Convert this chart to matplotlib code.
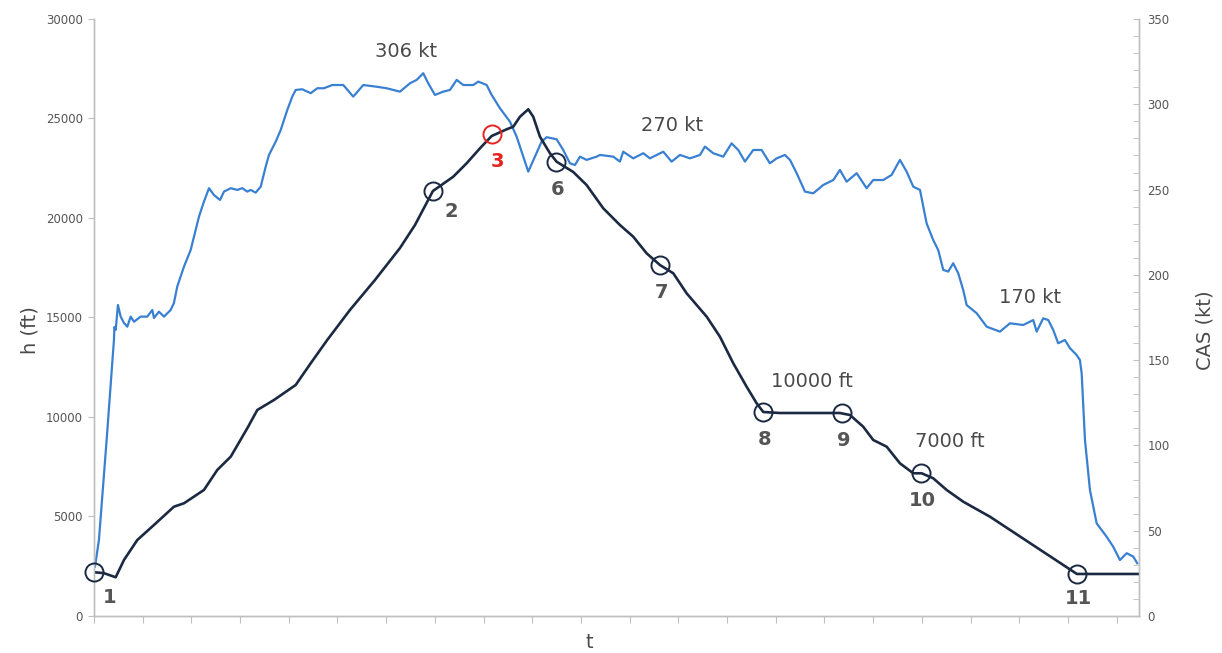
import matplotlib
matplotlib.use("Agg")
import matplotlib.pyplot as plt
from matplotlib.ticker import MultipleLocator, NullFormatter

# ---------------- data ----------------
# altitude profile h (ft) vs time t (s)
h_t = [0, 10.3, 22.3, 30.8, 44.5, 61.6, 82.1, 92.4, 112.9, 126.6, 140.4, 157.4, 167.7,
       184.8, 207.1, 222.5, 239.5, 262.8, 288.5, 314.2, 329.6, 348, 368.9, 382.6, 396.3,
       408.3, 423.7, 430.5, 437.4, 445.9, 451, 457.9, 468.2, 475, 492.1, 505.8, 522.9,
       540, 553.7, 567.4, 581.1, 594.8, 608.5, 629.1, 642.7, 656.4, 670.1, 680.4, 687.2,
       704.3, 765.9, 776.2, 789.8, 800.1, 813.9, 827.5, 841.2, 849.8, 861.7, 875.5,
       892.5, 919.9, 1009.2, 1073]
h_ft = [2200, 2150, 1945, 2814, 3819, 4573, 5492, 5663, 6332, 7337, 8005, 9432, 10352,
        10854, 11608, 12698, 13869, 15377, 16884, 18492, 19648, 21356, 22075, 22748, 23502,
        24120, 24457, 24587, 25090, 25462, 25090, 24085, 23251, 22829, 22311, 21658, 20487,
        19648, 19060, 18226, 17638, 17221, 16216, 15040, 14035, 12698, 11522, 10688, 10251,
        10200, 10200, 10100, 9512, 8844, 8507, 7673, 7171, 7171, 6919, 6332,
        5743, 4990, 2111, 2111]

# calibrated airspeed CAS (kt) vs time t (s)
cas_t = [0, 1, 5.1, 13, 20.5, 21, 22.3, 24.6, 27.4, 30.8, 34.2, 37.7, 41.1, 47.9, 54.7,
         59.9, 61.6, 66.7, 71.9, 78.7, 82.1, 85.5, 92.4, 99.3, 102.7, 107.8, 112.9, 118.1,
         123.2, 129.4, 133.5, 140.4, 147.1, 152.3, 157.4, 160.9, 166, 171.2, 176.3, 179.7,
         186.6, 191.7, 198.5, 203.6, 207.1, 213.9, 222.5, 229.3, 236.1, 244.7, 256, 266.2,
         276.5, 290.2, 300.5, 314.2, 324.4, 331.3, 338.1, 343.2, 350.1, 358.6, 365.5, 372.4,
         379.2, 389.4, 394.6, 403.2, 408.3, 416.8, 427.1, 434, 440.8, 445.9, 452.8, 459.6,
         464.8, 475, 481.8, 488.7, 493.8, 499, 505.8, 516.1, 519.5, 533.2, 540, 543.4,
         553.7, 564, 570.8, 584.5, 593.1, 601.7, 611.9, 622.2, 627.3, 635.8, 646.1, 654.7,
         661.5, 668.4, 676.9, 685.5, 694, 700.9, 709.4, 714.6, 721.5, 730, 738.5, 748.8,
         759.1, 765.9, 772.8, 783.1, 793.3, 800.1, 810.4, 819, 827.5, 834.4, 841.2, 848.1,
         854.9, 861.7, 866.8, 872, 877.1, 882.2, 887.4, 892.5, 896, 906.3, 916.6, 930.2,
         940.5, 954.1, 964.4, 967.9, 974.6, 979.8, 984.9, 990, 996.9, 1002.1, 1008.9,
         1012.3, 1014.1, 1017.5, 1022.6, 1029.5, 1039.7, 1046.5, 1053.4, 1060.3, 1067.1,
         1071.2]
cas_kt = [30, 28.7, 44.6, 103.2, 161.8, 169.4, 167.7, 182.3, 175.5, 171.8, 169.6, 175.5,
          172.5, 175.5, 175.5, 179.4, 174.7, 178.4, 175.5, 179.4, 183.5, 193.1, 204.8,
          214.6, 222.4, 234.1, 242.9, 250.8, 246.8, 243.9, 248.8, 250.8, 249.8, 250.8,
          248.8, 249.8, 248.2, 251.7, 263.4, 270.3, 278.1, 284.9, 296.7, 304.5, 308.4,
          308.8, 306.5, 309.4, 309.4, 311.3, 311.3, 304.5, 311.3, 310.3, 309.4, 307.4,
          312.3, 314.3, 318.2, 312.3, 305.5, 307.4, 308.4, 314.3, 311.3, 311.3, 313.3,
          311.3, 305.5, 297.7, 289.8, 281.0, 269.3, 260.5, 269.3, 278.1, 280.7, 279.5,
          273.2, 265.4, 264.4, 269.3, 267.4, 269.3, 270.3, 269.3, 266.4, 272.2, 268.3,
          271.3, 268.3, 272.2, 266.4, 270.3, 268.3, 270.3, 275.2, 271.3, 269.3, 277.1,
          273.2, 266.4, 273.2, 273.2, 265.4, 268.3, 270.3, 267.4, 259.6, 248.8, 247.8,
          252.7, 255.6, 261.5, 254.6, 259.6, 250.8, 255.6, 255.6, 258.6, 267.4, 260.5,
          251.7, 249.8, 230.2, 220.4, 214.6, 202.9, 201.9, 206.8, 200.9, 191.1, 182.3,
          177.5, 169.6, 166.7, 171.6, 170.6, 173.5, 166.7, 174.5, 173.5, 167.7, 159.9,
          161.8, 157, 153, 150.1, 142.3, 103.2, 73.9, 54.3, 46.5, 40.6, 32.8, 36.8, 34.8,
          30.9]

# numbered waypoints on the altitude profile
wp_labels = ["1", "2", "3", "6", "7", "8", "9", "10", "11"]
wp_t = [0, 348, 408.6, 474.3, 581.1, 687.4, 768.5, 849, 1009.2]
wp_h = [2200, 21356, 24220, 22814, 17638, 10251, 10200, 7186, 2111]

# text annotations
alt_notes = ["10000 ft", "7000 ft"]
alt_note_t = [737.2, 878.9]
alt_note_h = [11759, 8744]
cas_notes = ["306 kt", "270 kt", "170 kt"]
cas_note_t = [320.3, 593.4, 961]
cas_note_v = [330.7, 287.3, 187]

# ---------------- plot ----------------
BLUE = "#3a80d2"
NAVY = "#1b2a42"
GREY_TXT = "#4a4a4a"
SPINE = "#bfbfbf"

fig = plt.figure(figsize=(12.22, 6.53), dpi=100)
ax = fig.add_axes([0.0769, 0.0567, 0.9321 - 0.0769, 0.9709 - 0.0567])
ax2 = ax.twinx()

ax2.plot(cas_t, cas_kt, color=BLUE, lw=1.6, solid_joinstyle="round")
ax.plot(h_t, h_ft, color=NAVY, lw=1.9, solid_joinstyle="round")

ax.set_zorder(ax2.get_zorder() + 1)
ax.patch.set_visible(False)

for lab, tt, hh in zip(wp_labels, wp_t, wp_h):
    ec = "#e8231f" if lab == "3" else NAVY
    tc = "#e8231f" if lab == "3" else "#555555"
    ax.plot([tt], [hh], marker="o", ms=13, mfc="none", mec=ec, mew=1.4,
            clip_on=False, zorder=5)
    if lab == "1":
        dx, dy = 11, -18
    elif lab == "2":
        dx, dy = 13, -15
    elif lab == "3":
        dx, dy = 4, -20
    elif lab == "11":
        dx, dy = 1, -18
    else:
        dx, dy = 1, -20
    ax.annotate(lab, (tt, hh), xytext=(dx, dy), textcoords="offset points",
                ha="center", va="center", fontsize=14, fontweight="bold", color=tc)

for s, tt, hh in zip(alt_notes, alt_note_t, alt_note_h):
    ax.text(tt, hh, s, ha="center", va="center", fontsize=14, color=GREY_TXT)
for s, tt, vv in zip(cas_notes, cas_note_t, cas_note_v):
    ax2.text(tt, vv, s, ha="center", va="center", fontsize=14, color=GREY_TXT)

ax.set_xlim(0, 1073)
ax.set_ylim(0, 30000)
ax2.set_ylim(0, 350)

ax.xaxis.set_major_locator(MultipleLocator(50))
ax.xaxis.set_major_formatter(NullFormatter())
ax.yaxis.set_major_locator(MultipleLocator(5000))
ax2.yaxis.set_major_locator(MultipleLocator(50))
ax2.yaxis.set_minor_locator(MultipleLocator(10))

for a in (ax, ax2):
    a.spines["top"].set_visible(False)
    for sp in ("left", "right", "bottom"):
        a.spines[sp].set_color(SPINE)
        a.spines[sp].set_linewidth(1.0)

ax.tick_params(axis="x", direction="out", length=5, color=SPINE)
ax.tick_params(axis="y", direction="out", length=4, color=SPINE,
               labelsize=8.5, labelcolor="#555555", pad=4)
ax2.tick_params(axis="y", which="both", direction="in", length=4, color=SPINE,
                labelsize=8.5, labelcolor="#555555", pad=6)

ax.set_ylabel("h (ft)", fontsize=14, color=GREY_TXT, va="center")
ax.yaxis.set_label_coords(-0.061, 0.479)
ax2.set_ylabel("CAS (kt)", fontsize=14, color=GREY_TXT, va="center")
ax2.yaxis.set_label_coords(1.063, 0.479)
ax.set_xlabel("t", fontsize=14, color=GREY_TXT, va="center")
ax.xaxis.set_label_coords(0.4737, -0.0436)

fig.savefig("out.png", dpi=100)
